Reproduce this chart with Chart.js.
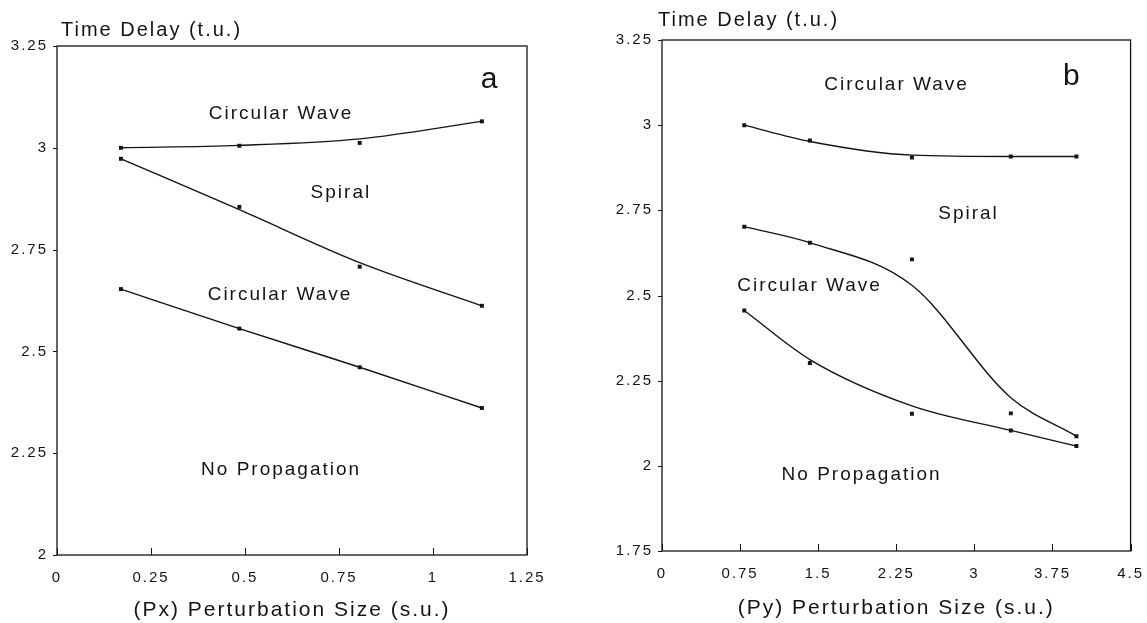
<!DOCTYPE html>
<html>
<head>
<meta charset="utf-8">
<title>Time delay vs perturbation size</title>
<script src="https://cdn.jsdelivr.net/npm/chart.js@4.4.0/dist/chart.umd.min.js"></script>
<style>
  html, body { margin: 0; padding: 0; background: #fff; }
  body { width: 1147px; height: 623px; position: relative; overflow: hidden; }
  .panel { position: absolute; top: 0; height: 623px; }
  #wrap-a { left: 0; width: 575px; }
  #wrap-b { left: 580px; width: 575px; }
</style>
</head>
<body>
<div class="panel" id="wrap-a"><canvas id="chart-a"></canvas></div>
<div class="panel" id="wrap-b"><canvas id="chart-b"></canvas></div>
<script>
"use strict";

// ── Panel a: Px perturbation ──────────────────────────────────────────────
const pxSize     = [0.17, 0.485, 0.805, 1.13];
const aUpperPts  = [3.0, 3.005, 3.012, 3.065];
const aUpperFit  = [3.0, 3.006, 3.022, 3.065];
const aSpiralPts = [2.973, 2.855, 2.708, 2.612];
const aSpiralFit = [2.973, 2.848, 2.718, 2.612];
const aLowerPts  = [2.653, 2.556, 2.461, 2.361];
const aLowerFit  = [2.653, 2.556, 2.461, 2.361];
const aXTicks    = [0, 0.25, 0.5, 0.75, 1, 1.25];
const aYTicks    = [2, 2.25, 2.5, 2.75, 3, 3.25];

// ── Panel b: Py perturbation ──────────────────────────────────────────────
const pySize     = [0.79, 1.42, 2.40, 3.35, 3.98];
const bUpperPts  = [3.0, 2.955, 2.905, 2.908, 2.908];
const bUpperFit  = [3.0, 2.952, 2.912, 2.908, 2.908];
const bSpiralPts = [2.702, 2.655, 2.606, 2.154, 2.087];
const bSpiralFit = [2.702, 2.655, 2.53, 2.20, 2.087];
const bLowerPts  = [2.456, 2.302, 2.153, 2.104, 2.058];
const bLowerFit  = [2.456, 2.312, 2.176, 2.104, 2.058];
const bXTicks    = [0, 0.75, 1.5, 2.25, 3, 3.75, 4.5];
const bYTicks    = [1.75, 2, 2.25, 2.5, 2.75, 3, 3.25];

// ── Region labels (anchored in data units) ────────────────────────────────
const aRegions = [
  { text: "Circular Wave",  x: 0.596, y: 3.083 },
  { text: "Spiral",         x: 0.755, y: 2.89 },
  { text: "Circular Wave",  x: 0.593, y: 2.64 },
  { text: "No Propagation", x: 0.596, y: 2.209 },
];
const bRegions = [
  { text: "Circular Wave",  x: 2.253, y: 3.12 },
  { text: "Spiral",         x: 2.944, y: 2.741 },
  { text: "Circular Wave",  x: 1.417, y: 2.53 },
  { text: "No Propagation", x: 1.917, y: 1.973 },
];

const INK = "#141414";
const FONT = "'Liberation Sans', Arial, sans-serif";

Chart.defaults.font.family = FONT;
Chart.defaults.color = INK;

function pairs(xs, ys) {
  return xs.map((x, i) => ({ x, y: ys[i] }));
}

// ── Frame, inward ticks and text labels ───────────────────────────────────
const decorPlugin = {
  id: "decor",
  beforeDraw(chart) {
    chart.ctx.letterSpacing = "2px";
  },
  afterDraw(chart, args, opts) {
    const { ctx, chartArea: a } = chart;
    const xs = chart.scales.x, ys = chart.scales.y;
    ctx.save();
    ctx.letterSpacing = "2px";
    ctx.strokeStyle = INK;
    ctx.lineWidth = 1.3;
    ctx.strokeRect(a.left, a.top, a.right - a.left, a.bottom - a.top);

    ctx.lineWidth = 1;
    for (const v of opts.xTicks) {
      const px = Math.round(xs.getPixelForValue(v)) + 0.5;
      ctx.beginPath();
      ctx.moveTo(px, a.bottom);
      ctx.lineTo(px, a.bottom - 7);
      ctx.stroke();
    }
    for (const v of opts.yTicks) {
      const py = Math.round(ys.getPixelForValue(v)) + 0.5;
      ctx.beginPath();
      ctx.moveTo(a.left, py);
      ctx.lineTo(a.left - 4, py);
      ctx.stroke();
    }

    ctx.fillStyle = INK;
    ctx.textAlign = "center";
    ctx.textBaseline = "middle";
    ctx.font = `19px ${FONT}`;
    for (const r of opts.regions) {
      ctx.fillText(r.text, xs.getPixelForValue(r.x), ys.getPixelForValue(r.y));
    }

    ctx.font = `30px ${FONT}`;
    ctx.fillText(opts.letter.text, xs.getPixelForValue(opts.letter.x), ys.getPixelForValue(opts.letter.y));

    ctx.textAlign = "left";
    ctx.font = `20px ${FONT}`;
    ctx.fillText("Time Delay (t.u.)", a.left + opts.titleDx, a.top - opts.titleDy);
    ctx.restore();
  },
};

function curveSet(xs, ys) {
  return {
    data: pairs(xs, ys),
    showLine: true,
    borderColor: INK,
    borderWidth: 1.4,
    pointRadius: 0,
    cubicInterpolationMode: "monotone",
    tension: 0.4,
  };
}

function pointSet(xs, ys) {
  return {
    data: pairs(xs, ys),
    showLine: false,
    pointStyle: "rect",
    pointRadius: 2.8,
    backgroundColor: INK,
    borderColor: INK,
    borderWidth: 0,
  };
}

function drawPanel(cfg) {
  const ctx = document.getElementById(cfg.canvas).getContext("2d");
  return new Chart(ctx, {
    type: "scatter",
    data: {
      datasets: [
        curveSet(cfg.xs, cfg.upperFit),
        curveSet(cfg.xs, cfg.spiralFit),
        curveSet(cfg.xs, cfg.lowerFit),
        pointSet(cfg.xs, cfg.upperPts),
        pointSet(cfg.xs, cfg.spiralPts),
        pointSet(cfg.xs, cfg.lowerPts),
      ],
    },
    options: {
      responsive: true,
      maintainAspectRatio: false,
      animation: false,
      events: [],
      layout: { padding: { top: cfg.padTop, right: cfg.padRight, left: 0, bottom: 0 } },
      plugins: {
        legend: { display: false },
        tooltip: { enabled: false },
        decor: {
          xTicks: cfg.xTicks,
          yTicks: cfg.yTicks,
          regions: cfg.regions,
          letter: cfg.letter,
          titleDx: cfg.titleDx,
          titleDy: cfg.titleDy,
        },
      },
      scales: {
        x: {
          type: "linear",
          min: cfg.xTicks[0],
          max: cfg.xTicks[cfg.xTicks.length - 1],
          afterBuildTicks: s => { s.ticks = cfg.xTicks.map(v => ({ value: v })); },
          afterFit: s => { s.height = cfg.xAxisHeight; },
          grid: { display: false, drawTicks: false },
          border: { display: false },
          ticks: {
            padding: 14, maxRotation: 0, autoSkip: false,
            font: { size: 15 },
            callback: v => String(v),
          },
          title: {
            display: true,
            text: cfg.xTitle,
            font: { size: 21 },
            padding: { top: 0, bottom: cfg.xTitlePad },
          },
        },
        y: {
          type: "linear",
          min: cfg.yTicks[0],
          max: cfg.yTicks[cfg.yTicks.length - 1],
          afterBuildTicks: s => { s.ticks = cfg.yTicks.map(v => ({ value: v })); },
          afterFit: s => { s.width = cfg.yAxisWidth; },
          grid: { display: false, drawTicks: false },
          border: { display: false },
          ticks: {
            padding: 9, autoSkip: false,
            font: { size: 15 },
            callback: v => String(v),
          },
        },
      },
    },
    plugins: [decorPlugin],
  });
}

drawPanel({
  canvas: "chart-a",
  xs: pxSize,
  upperPts: aUpperPts, upperFit: aUpperFit,
  spiralPts: aSpiralPts, spiralFit: aSpiralFit,
  lowerPts: aLowerPts, lowerFit: aLowerFit,
  xTicks: aXTicks, yTicks: aYTicks,
  regions: aRegions,
  letter: { text: "a", x: 1.152, y: 3.167 },
  xTitle: "(Px) Perturbation Size (s.u.)",
  padTop: 46, padRight: 48, xAxisHeight: 68, yAxisWidth: 57,
  xTitlePad: 0, titleDx: 4, titleDy: 16,
});

drawPanel({
  canvas: "chart-b",
  xs: pySize,
  upperPts: bUpperPts, upperFit: bUpperFit,
  spiralPts: bSpiralPts, spiralFit: bSpiralFit,
  lowerPts: bLowerPts, lowerFit: bLowerFit,
  xTicks: bXTicks, yTicks: bYTicks,
  regions: bRegions,
  letter: { text: "b", x: 3.94, y: 3.141 },
  xTitle: "(Py) Perturbation Size (s.u.)",
  padTop: 40, padRight: 24, xAxisHeight: 72, yAxisWidth: 82,
  xTitlePad: 2, titleDx: -4, titleDy: 20,
});
</script>
</body>
</html>
